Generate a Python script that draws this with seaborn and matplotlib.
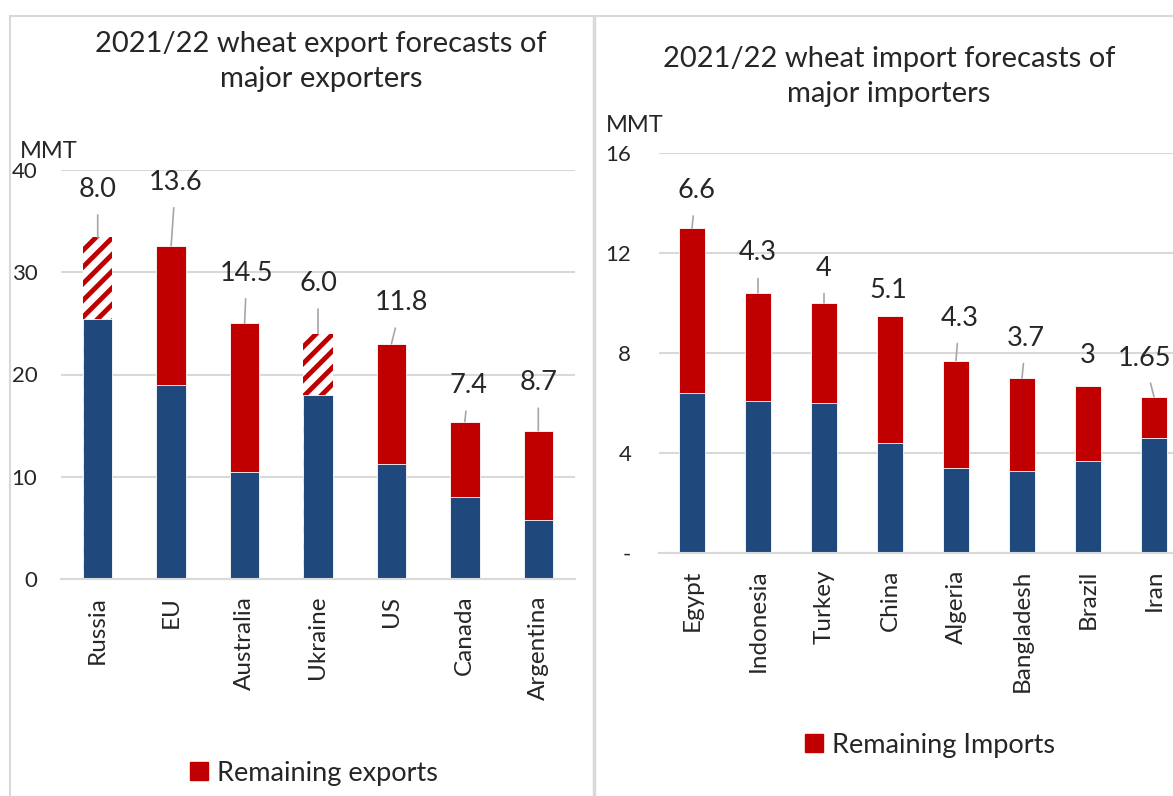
"""
Wheat trade forecasts 2021/22 - export and import side by side.
Stacked bars: shipped/imported so far (blue) + remaining (red).
"""
import matplotlib
matplotlib.use("Agg")
import matplotlib.pyplot as plt
from matplotlib.lines import Line2D
from matplotlib.patches import Patch
import seaborn as sns

# ─────────────────────────────────────────────
# DATA
# ─────────────────────────────────────────────
exporters = ["Russia", "EU", "Australia", "Ukraine", "US", "Canada", "Argentina"]
export_shipped = [25.4, 19.0, 10.5, 18.0, 11.2, 8.0, 5.8]
export_remaining = [8.0, 13.6, 14.5, 6.0, 11.8, 7.4, 8.7]
export_labels = ["8.0", "13.6", "14.5", "6.0", "11.8", "7.4", "8.7"]
export_hatched = ["Russia", "Ukraine"]

importers = ["Egypt", "Indonesia", "Turkey", "China", "Algeria",
             "Bangladesh", "Brazil", "Iran"]
import_done = [6.4, 6.1, 6.0, 4.4, 3.4, 3.3, 3.7, 4.6]
import_remaining = [6.6, 4.3, 4.0, 5.1, 4.3, 3.7, 3.0, 1.65]
import_labels = ["6.6", "4.3", "4", "5.1", "4.3", "3.7", "3", "1.65"]

export_ticks = [0, 10, 20, 30, 40]
export_ticklabels = ["0", "10", "20", "30", "40"]
import_ticks = [0, 4, 8, 12, 16]
import_ticklabels = ["-", "4", "8", "12", "16"]

# label placement (data units: x offset from bar centre, y of label centre)
export_label_pos = [(0.0, 38.1), (0.06, 38.8), (0.03, 29.9), (0.0, 28.9),
                    (0.14, 27.0), (0.05, 18.9), (0.0, 19.2)]
export_leader = [True] * 7
import_label_pos = [(0.06, 14.5), (0.0, 12.0), (0.0, 11.4), (-0.02, 10.5),
                    (0.05, 9.4), (0.06, 8.6), (0.0, 7.9), (-0.15, 7.8)]
import_leader = [True, True, True, False, True, True, False, True]

BLUE = "#1F497D"
RED = "#C00000"
GRID = "#D9D9D9"
LEADER = "#A6A6A6"

W, H = 1173, 796


def fx(px):
    return px / W


def fy(py):
    return 1 - py / H


def draw_panel(ax, cats, base, remaining, labels, label_pos, leader,
               ticks, ticklabels, ymax, hatched=()):
    totals = [b + r for b, r in zip(base, remaining)]
    sns.barplot(x=cats, y=totals, color=RED, width=0.4, saturation=1,
                edgecolor="white", linewidth=0.6, ax=ax)
    n = len(cats)
    for cat, bar in zip(cats, ax.patches[:n]):
        if cat in hatched:
            bar.set_facecolor("white")
            bar.set_edgecolor(RED)
            bar.set_hatch("//")
            bar.set_linewidth(0)
    sns.barplot(x=cats, y=base, color=BLUE, width=0.4, saturation=1,
                edgecolor="white", linewidth=0.6, ax=ax)

    for i, (txt, (dx, ly), tot, ld) in enumerate(zip(labels, label_pos,
                                                       totals, leader)):
        arrow = dict(arrowstyle="-", color=LEADER, lw=1.2,
                     shrinkA=7, shrinkB=0) if ld else None
        ax.annotate(txt, xy=(i, tot), xytext=(i + dx, ly),
                    ha="center", va="center", fontsize=19.5,
                    arrowprops=arrow, annotation_clip=False)

    ax.set_xlim(-0.5, n - 0.5)
    ax.set_ylim(0, ymax)
    ax.set_yticks(ticks)
    ax.set_yticklabels(ticklabels)
    ax.yaxis.grid(True, color=GRID, lw=1.5)
    ax.set_axisbelow(True)
    for side in ["top", "right", "left"]:
        ax.spines[side].set_visible(False)
    ax.spines["bottom"].set_color(GRID)
    ax.spines["bottom"].set_linewidth(1.5)
    ax.tick_params(axis="both", length=0, labelsize=16)
    ax.tick_params(axis="x", labelsize=17.5, rotation=90, pad=12)
    ax.set_xlabel("")
    ax.set_ylabel("")


sns.set_theme(style="white")
plt.rcParams["font.family"] = ["Lato", "DejaVu Sans"]
plt.rcParams["hatch.linewidth"] = 3.5

fig = plt.figure(figsize=(11.73, 7.96), dpi=100)

# left panel: exports
ax1 = fig.add_axes([fx(61), fy(579), fx(575 - 61), (579 - 170) / H])
draw_panel(ax1, exporters, export_shipped, export_remaining, export_labels,
           export_label_pos, export_leader, export_ticks, export_ticklabels,
           40, hatched=export_hatched)
ax1.tick_params(axis="y", pad=17)

# right panel: imports
ax2 = fig.add_axes([fx(659), fy(553), fx(528), (553 - 153) / H])
draw_panel(ax2, importers, import_done, import_remaining, import_labels,
           import_label_pos, import_leader, import_ticks, import_ticklabels,
           16)
ax2.tick_params(axis="y", pad=20)

# titles
fig.text(fx(321), fy(52), "2021/22 wheat export forecasts of",
         ha="center", va="baseline", fontsize=21)
fig.text(fx(321), fy(87), "major exporters",
         ha="center", va="baseline", fontsize=21)
fig.text(fx(889), fy(67), "2021/22 wheat import forecasts of",
         ha="center", va="baseline", fontsize=21)
fig.text(fx(889), fy(102), "major importers",
         ha="center", va="baseline", fontsize=21)

# unit labels
fig.text(fx(20), fy(158), "MMT", ha="left", va="baseline", fontsize=17)
fig.text(fx(606), fy(132), "MMT", ha="left", va="baseline", fontsize=17)

# legends (only the remaining series is listed)
fig.legend(handles=[Patch(color=RED, label="Remaining exports")],
           loc="center", bbox_to_anchor=(fx(314), fy(773)), frameon=False,
           fontsize=19.5, handlelength=0.65, handleheight=0.65,
           handletextpad=0.35)
fig.legend(handles=[Patch(color=RED, label="Remaining Imports")],
           loc="center", bbox_to_anchor=(fx(930), fy(745)), frameon=False,
           fontsize=19.5, handlelength=0.65, handleheight=0.65,
           handletextpad=0.35)

# chart-area frames
fig.add_artist(Line2D([fx(10), 1], [fy(16), fy(16)], color=GRID, lw=1.5))
fig.add_artist(Line2D([fx(10), fx(10)], [fy(16), 0], color=GRID, lw=1.5))
fig.add_artist(Line2D([fx(593.5), fx(593.5)], [fy(16), 0], color=GRID, lw=2.5))

fig.savefig("out.png", dpi=100)
